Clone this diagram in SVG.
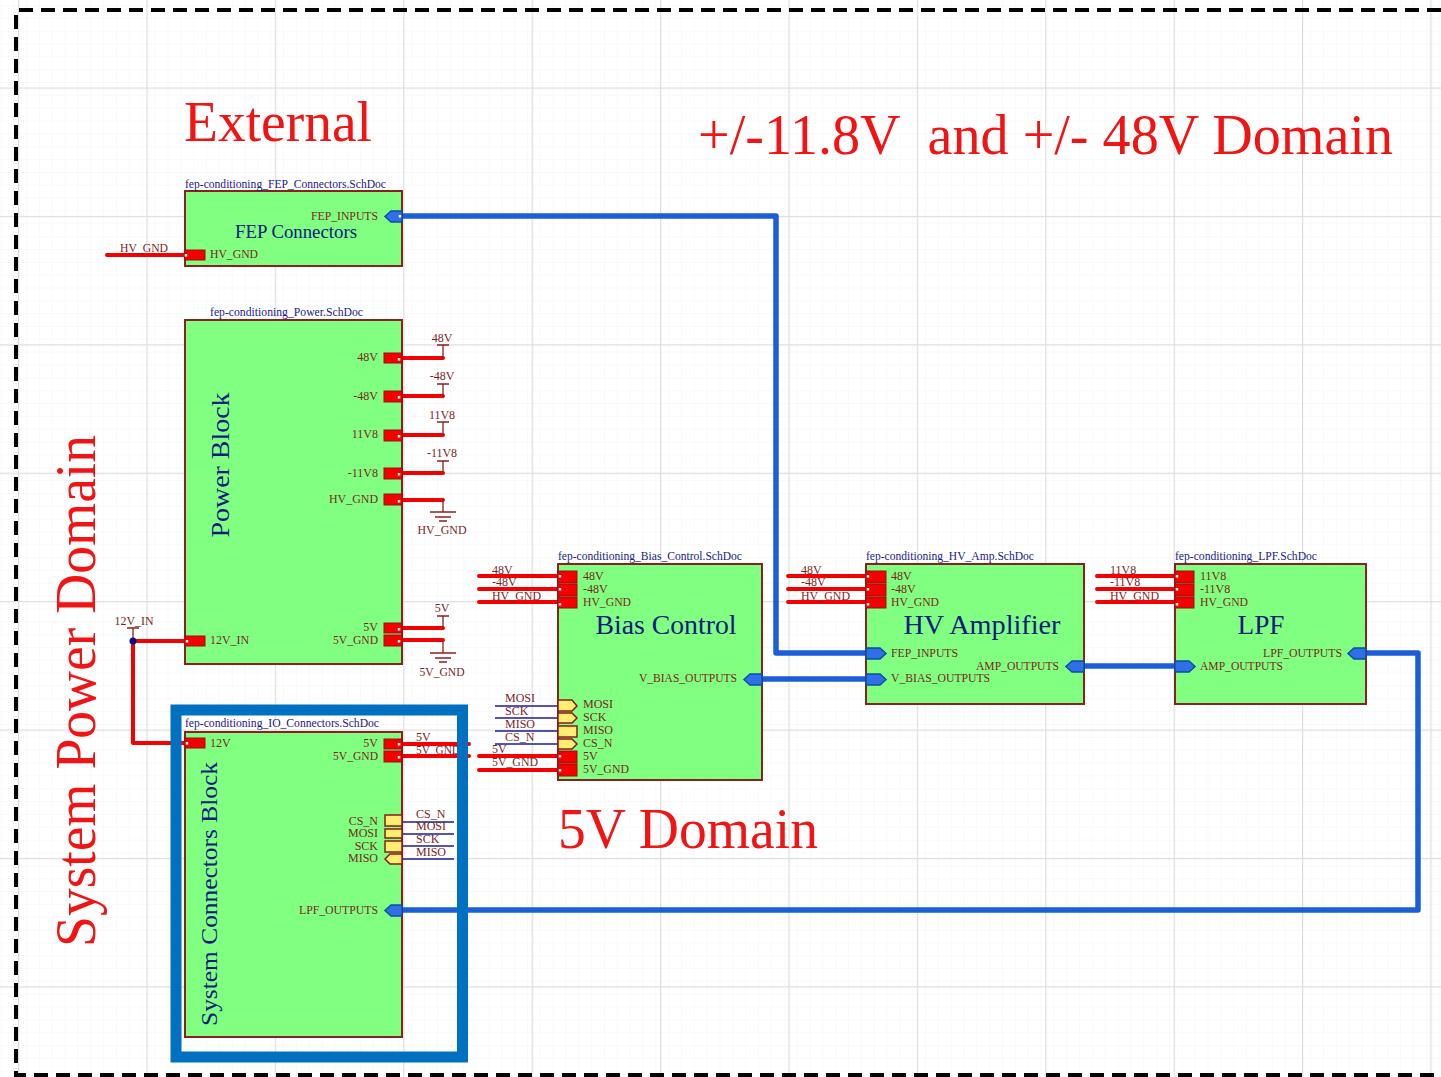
<svg xmlns="http://www.w3.org/2000/svg" width="1441" height="1077" viewBox="0 0 1441 1077">
<style>
text{font-family:"Liberation Serif","Times New Roman",serif}
.d{font-size:58px;fill:#f01414;white-space:pre}
.f{font-size:11.5px;fill:#1a1a8c}
.t{fill:#0a1a80}
.p{font-size:12px;fill:#7c1f1f}
.e{text-anchor:end}
.m{text-anchor:middle}
.n{fill:#80ff80;stroke:#8a2020;stroke-width:2}
.r{fill:#f50000;stroke:#9a1010;stroke-width:1}
.y{fill:#ffee70;stroke:#8a1a1a;stroke-width:1.5}
.b{fill:#2f6fe8;stroke:#0a50a0;stroke-width:1.5}
.w{fill:none;stroke:#f50000;stroke-width:4;stroke-linecap:round;stroke-linejoin:round}
.s{fill:none;stroke:#8a2020;stroke-width:1.3}
.v{fill:none;stroke:#1c1c9c;stroke-width:1.6}
.u{fill:none;stroke:#1a5fd8;stroke-width:5.500;stroke-linejoin:round}
.h{fill:none;stroke:#fff;stroke-width:2.500}
</style>
<defs>
<pattern id="minor" width="12.84" height="12.84" patternUnits="userSpaceOnUse" x="1.5" y="6"><path d="M12.84 0V12.84H0" fill="none" stroke="#f3f3f3" stroke-width="1"/></pattern>
<pattern id="major" width="128.4" height="128.4" patternUnits="userSpaceOnUse" x="18" y="87.5"><path d="M0.5 0V128.4M0 0.5H128.4" fill="none" stroke="#dedede" stroke-width="1.5"/></pattern>
</defs>
<rect width="1441" height="1077" fill="#fff"/>
<rect width="1441" height="1077" fill="url(#minor)"/>
<rect width="1441" height="1077" fill="url(#major)"/>
<g id="connectors">
<path class="u" d="M400 216H776V653H868"/>
<path class="u" d="M760 679H868"/>
<path class="u" d="M1082 666H1177"/>
<path class="u" d="M1364 653H1418V910H400"/>
<path class="w" d="M107 255H187"/>
<path class="w" d="M400 358H443M400 396H443M400 435H443M400 473H443M400 500H443M400 628H443M400 640H443"/>
<path class="w" d="M187 641H133V743H187"/>
<path class="w" d="M400 744H469M400 756H469"/>
<path class="w" d="M479 576H560M479 589H560M479 602H560M479 756H560M479 770H560"/>
<path class="w" d="M788 576H868M788 589H868M788 602H868"/>
<path class="w" d="M1097 576H1177M1097 589H1177M1097 602H1177"/>
<path class="v" d="M495 706H558M495 718H558M495 731H558M495 744H558"/>
<path class="v" d="M402 822H454M402 834H454M402 846H454M402 859H454"/>
<path class="s" d="M443 358V345M437 345H449M443 396V384M437 384H449M443 435V422M437 422H449M443 473V461M437 461H449"/>
<path class="s" d="M443 500V512M430 512H456M435 517H451M439 521H447"/>
<path class="s" d="M443 628V616M437 616H449"/>
<path class="s" d="M443 640V653M430 653H456M435 658H451M439 662H447"/>
<path class="s" d="M133 641V628M127 628H139"/>
<circle cx="133" cy="641" r="3.5" fill="#0a0a80"/>
</g>
<g id="node-fep">
<rect class="n" x="185" y="191" width="217" height="75"/>
<text class="f" x="185" y="188" textLength="201" lengthAdjust="spacingAndGlyphs">fep-conditioning_FEP_Connectors.SchDoc</text>
<text class="t m" x="296" y="238" font-size="19" textLength="122" lengthAdjust="spacingAndGlyphs">FEP Connectors</text>
<path class="b" d="M402 211H391L385 216.500 391 222H402Z"/>
<text class="p e" x="378" y="220" textLength="67" lengthAdjust="spacingAndGlyphs">FEP_INPUTS</text>
<rect class="r" x="185" y="250" width="20" height="10"/>
<text class="p" x="210" y="258" textLength="48" lengthAdjust="spacingAndGlyphs">HV_GND</text>
<path class="h" d="M400 215v2.500M186 254v2.500"/>
</g>
<g id="node-power">
<rect class="n" x="185" y="320" width="217" height="344"/>
<text class="f" x="210" y="316" textLength="153" lengthAdjust="spacingAndGlyphs">fep-conditioning_Power.SchDoc</text>
<text class="t m" transform="translate(229 465) rotate(-90)" font-size="25" textLength="145" lengthAdjust="spacingAndGlyphs">Power Block</text>
<rect class="r" x="384" y="353" width="18" height="10"/><rect class="r" x="384" y="391" width="18" height="11"/><rect class="r" x="384" y="430" width="18" height="11"/><rect class="r" x="384" y="468" width="18" height="11"/><rect class="r" x="384" y="494" width="18" height="11"/><rect class="r" x="384" y="623" width="18" height="10"/><rect class="r" x="384" y="635" width="18" height="11"/>
<text class="p e" x="378" y="361">48V</text><text class="p e" x="378" y="400">-48V</text><text class="p e" x="378" y="438">11V8</text><text class="p e" x="378" y="477">-11V8</text>
<text class="p e" x="378" y="503" textLength="49" lengthAdjust="spacingAndGlyphs">HV_GND</text><text class="p e" x="378" y="631">5V</text>
<text class="p e" x="378" y="644" textLength="45" lengthAdjust="spacingAndGlyphs">5V_GND</text>
<rect class="r" x="185" y="636" width="20" height="10"/>
<text class="p" x="210" y="644" textLength="39" lengthAdjust="spacingAndGlyphs">12V_IN</text>
<path class="h" d="M399 358v2.500M399 396v2.500M399 435v2.500M399 473v2.500M399 500v2.500M399 628v2.500M399 640v2.500M187 640v2.500"/>
</g>
<g id="node-io">
<rect class="n" x="185" y="732" width="217" height="305"/>
<text class="f" x="185" y="727" textLength="194" lengthAdjust="spacingAndGlyphs">fep-conditioning_IO_Connectors.SchDoc</text>
<text class="t m" transform="translate(217 894) rotate(-90)" font-size="24" textLength="264" lengthAdjust="spacingAndGlyphs">System Connectors Block</text>
<rect class="r" x="185" y="738" width="20" height="10"/>
<text class="p" x="210" y="747">12V</text>
<rect class="r" x="384" y="739" width="18" height="10"/><rect class="r" x="384" y="751" width="18" height="11"/>
<text class="p e" x="378" y="747">5V</text><text class="p e" x="378" y="760" textLength="45" lengthAdjust="spacingAndGlyphs">5V_GND</text>
<rect class="y" x="385" y="815" width="17" height="11"/><rect class="y" x="385" y="829" width="17" height="9"/><rect class="y" x="385" y="841" width="17" height="11"/>
<path class="y" d="M402 854H390L385 859 390 864H402Z"/>
<text class="p e" x="378" y="825">CS_N</text><text class="p e" x="378" y="837">MOSI</text><text class="p e" x="378" y="850">SCK</text><text class="p e" x="378" y="862">MISO</text>
<path class="b" d="M402 905H391L385 910.500 391 916H402Z"/>
<text class="p e" x="378" y="914" textLength="79" lengthAdjust="spacingAndGlyphs">LPF_OUTPUTS</text>
<path class="h" d="M187 742v2.500M399 743v2.500M399 756v2.500"/>
</g>
<g id="node-bias">
<rect class="n" x="558" y="564" width="204" height="216"/>
<text class="f" x="558" y="560" textLength="184" lengthAdjust="spacingAndGlyphs">fep-conditioning_Bias_Control.SchDoc</text>
<text class="t m" x="666" y="634" font-size="27" textLength="141" lengthAdjust="spacingAndGlyphs">Bias Control</text>
<rect class="r" x="558" y="571" width="19" height="12"/><rect class="r" x="558" y="584" width="19" height="12"/><rect class="r" x="558" y="597" width="19" height="11"/>
<text class="p" x="583" y="580">48V</text><text class="p" x="583" y="593">-48V</text><text class="p" x="583" y="606" textLength="48" lengthAdjust="spacingAndGlyphs">HV_GND</text>
<path class="y" d="M558 700H572L577 706 572 711H558Z"/><path class="y" d="M558 713H572L577 718 572 723H558Z"/><rect class="y" x="558" y="726" width="19" height="11"/><path class="y" d="M558 739H572L577 744 572 749H558Z"/>
<text class="p" x="583" y="708">MOSI</text><text class="p" x="583" y="721">SCK</text><text class="p" x="583" y="734">MISO</text><text class="p" x="583" y="747">CS_N</text>
<rect class="r" x="558" y="751" width="19" height="12"/><rect class="r" x="558" y="764" width="19" height="12"/>
<text class="p" x="583" y="760">5V</text><text class="p" x="583" y="773" textLength="46" lengthAdjust="spacingAndGlyphs">5V_GND</text>
<path class="b" d="M762 674H750L744 679.500 750 685H762Z"/>
<text class="p e" x="737" y="682" textLength="98" lengthAdjust="spacingAndGlyphs">V_BIAS_OUTPUTS</text>
<path class="h" d="M560 575v2.500M560 588v2.500M560 603v2.500M560 755v2.500M560 769v2.500"/>
</g>
<g id="node-hv">
<rect class="n" x="866" y="564" width="218" height="140"/>
<text class="f" x="866" y="560" textLength="168" lengthAdjust="spacingAndGlyphs">fep-conditioning_HV_Amp.SchDoc</text>
<text class="t m" x="982" y="634" font-size="27" textLength="157" lengthAdjust="spacingAndGlyphs">HV Amplifier</text>
<rect class="r" x="866" y="571" width="20" height="12"/><rect class="r" x="866" y="584" width="20" height="12"/><rect class="r" x="866" y="597" width="20" height="11"/>
<text class="p" x="891" y="580">48V</text><text class="p" x="891" y="593">-48V</text><text class="p" x="891" y="606" textLength="48" lengthAdjust="spacingAndGlyphs">HV_GND</text>
<path class="b" d="M866 648H880L886 653.500 880 659H866Z"/><path class="b" d="M866 674H880L886 679.500 880 685H866Z"/>
<text class="p" x="891" y="657" textLength="67" lengthAdjust="spacingAndGlyphs">FEP_INPUTS</text>
<text class="p" x="891" y="682" textLength="99" lengthAdjust="spacingAndGlyphs">V_BIAS_OUTPUTS</text>
<path class="b" d="M1084 661H1072L1066 666.500 1072 672H1084Z"/>
<text class="p e" x="1059" y="670" textLength="83" lengthAdjust="spacingAndGlyphs">AMP_OUTPUTS</text>
<path class="h" d="M868 575v2.500M868 588v2.500M868 603v2.500"/>
</g>
<g id="node-lpf">
<rect class="n" x="1175" y="564" width="191" height="140"/>
<text class="f" x="1175" y="560" textLength="142" lengthAdjust="spacingAndGlyphs">fep-conditioning_LPF.SchDoc</text>
<text class="t m" x="1261" y="634" font-size="27" textLength="47" lengthAdjust="spacingAndGlyphs">LPF</text>
<rect class="r" x="1175" y="571" width="19" height="12"/><rect class="r" x="1175" y="584" width="19" height="12"/><rect class="r" x="1175" y="597" width="19" height="11"/>
<text class="p" x="1200" y="580">11V8</text><text class="p" x="1200" y="593">-11V8</text><text class="p" x="1200" y="606" textLength="48" lengthAdjust="spacingAndGlyphs">HV_GND</text>
<path class="b" d="M1175 661H1189L1195 666.500 1189 672H1175Z"/>
<text class="p" x="1200" y="670" textLength="83" lengthAdjust="spacingAndGlyphs">AMP_OUTPUTS</text>
<path class="b" d="M1366 648H1354L1348 653.500 1354 659H1366Z"/>
<text class="p e" x="1342" y="657" textLength="79" lengthAdjust="spacingAndGlyphs">LPF_OUTPUTS</text>
<path class="h" d="M1177 575v2.500M1177 588v2.500M1177 603v2.500"/>
</g>
<g id="net-labels">
<text class="p m" x="144" y="252" textLength="48" lengthAdjust="spacingAndGlyphs">HV_GND</text>
<text class="p m" x="442" y="342">48V</text><text class="p m" x="442" y="380">-48V</text><text class="p m" x="442" y="419">11V8</text><text class="p m" x="442" y="457">-11V8</text>
<text class="p m" x="442" y="534" textLength="49" lengthAdjust="spacingAndGlyphs">HV_GND</text>
<text class="p m" x="442" y="612">5V</text>
<text class="p m" x="442" y="676" textLength="45" lengthAdjust="spacingAndGlyphs">5V_GND</text>
<text class="p m" x="134" y="625" textLength="39" lengthAdjust="spacingAndGlyphs">12V_IN</text>
<text class="p" x="492" y="574">48V</text><text class="p" x="492" y="586">-48V</text><text class="p" x="492" y="600" textLength="49" lengthAdjust="spacingAndGlyphs">HV_GND</text>
<text class="p" x="801" y="574">48V</text><text class="p" x="801" y="586">-48V</text><text class="p" x="801" y="600" textLength="49" lengthAdjust="spacingAndGlyphs">HV_GND</text>
<text class="p" x="1110" y="574">11V8</text><text class="p" x="1110" y="586">-11V8</text><text class="p" x="1110" y="600" textLength="49" lengthAdjust="spacingAndGlyphs">HV_GND</text>
<text class="p" x="505" y="702">MOSI</text><text class="p" x="505" y="715">SCK</text><text class="p" x="505" y="728">MISO</text><text class="p" x="505" y="741">CS_N</text>
<text class="p" x="492" y="753">5V</text><text class="p" x="492" y="766" textLength="46" lengthAdjust="spacingAndGlyphs">5V_GND</text>
<text class="p" x="416" y="741">5V</text><text class="p" x="416" y="754" textLength="44" lengthAdjust="spacingAndGlyphs">5V_GND</text>
<text class="p" x="416" y="818">CS_N</text><text class="p" x="416" y="830">MOSI</text><text class="p" x="416" y="843">SCK</text><text class="p" x="416" y="856">MISO</text>
</g>
<g id="domains">
<rect x="176" y="710" width="286.500" height="347" fill="none" stroke="#0070c0" stroke-width="11"/>
<path d="M1441 10H16V1075H1441" fill="none" stroke="#000" stroke-width="4" stroke-dasharray="14 8"/>
<text class="d" x="184" y="141" textLength="188" lengthAdjust="spacingAndGlyphs">External</text>
<text class="d" x="698" y="154" textLength="695" lengthAdjust="spacingAndGlyphs">+/-11.8V  and +/- 48V Domain</text>
<text class="d" x="558" y="848" textLength="260" lengthAdjust="spacingAndGlyphs">5V Domain</text>
<text class="d" transform="translate(95 947) rotate(-90)" textLength="512" lengthAdjust="spacingAndGlyphs">System Power Domain</text>
</g>
</svg>
